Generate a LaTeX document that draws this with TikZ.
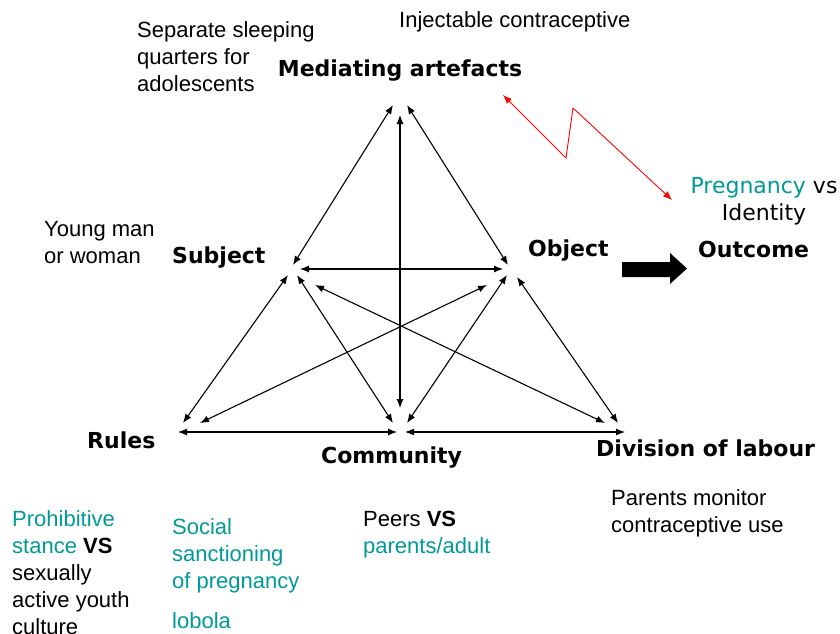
\documentclass[tikz,border=0pt]{standalone}
\usepackage{fontspec}
\setmainfont{Liberation Sans}
\newfontfamily\verd{DejaVu Sans}
\usetikzlibrary{arrows.meta}
\definecolor{tealtxt}{RGB}{0,153,153}
\begin{document}
\begin{tikzpicture}[x=1pt, y=-1pt, line join=round, >={Latex[length=9pt,width=7pt]},
	lab/.style={inner sep=0pt, anchor=base west, align=left, font=\fontsize{22}{27}\selectfont},
	head/.style={inner sep=0pt, anchor=base west, font=\verd\bfseries\fontsize{22}{27}\selectfont},
	duo/.style={<->, line width=1.1pt}]
	\useasboundingbox (0,0) rectangle (840,634);
	% corners of the triangle
	\coordinate (T) at (400,105);
	\coordinate (S) at (295,270);
	\coordinate (O) at (505,270);
	\coordinate (R) at (180,428);
	\coordinate (C) at (400,428);
	\coordinate (D) at (620,428);
	% labels (multi-line ones sit on the baseline of their last line)
	\node[head, anchor=base] (mediate) at (400,77) {Mediating artefacts};
	\node[head] (subject) at (172,263) {Subject};
	\node[head] (object) at (528,256) {Object};
	\node[head] (outcome) at (698,257) {Outcome};
	\node[head] (rules) at (87,448) {Rules};
	\node[head] (comm) at (321,463) {Community};
	\node[head] (divis) at (596,456) {Division of labour};
	\node[lab] (sleep) at (137,91) {Separate sleeping\\quarters for\\adolescents};
	\node[lab] (inject) at (399,28) {Injectable contraceptive};
	\node[lab] (young) at (44,263) {Young man\\or woman};
	\node[lab, anchor=base, align=center, font=\verd\fontsize{22}{27}\selectfont] (preg) at (764,220) {\textcolor{tealtxt}{Pregnancy} vs\\Identity};
	\node[lab] (monitor) at (611,532) {Parents monitor\\contraceptive use};
	\node[lab] (peers) at (363,553) {Peers \textbf{VS}\\\textcolor{tealtxt}{parents/adult}};
	\node[lab, text=tealtxt] (social) at (172,588) {Social\\sanctioning\\of pregnancy};
	\node[lab, text=tealtxt] (lobola) at (172,628) {lobola};
	\node[lab] (prohib) at (12,634) {\textcolor{tealtxt}{Prohibitive}\\\textcolor{tealtxt}{stance} \textbf{VS}\\sexually\\active youth\\culture};
	% edges of the triangle
	\draw[duo] ([shift={(-2,-5)}]S) -- ([shift={(-7,0)}]T);
	\draw[duo] ([shift={(3,-5)}]O) -- ([shift={(7,0)}]T);
	\draw[duo] ([shift={(0,-20)}]C) -- ([shift={(0,10)}]T);
	\draw[duo] ([shift={(5,-1)}]S) -- ([shift={(-2,-1)}]O);
	\draw[duo] ([shift={(-7,5)}]S) -- ([shift={(3,-5)}]R);
	\draw[duo] ([shift={(2,5)}]S) -- ([shift={(-7,-5)}]C);
	\draw[duo] ([shift={(20,15)}]S) -- ([shift={(-15,-5)}]D);
	\draw[duo] ([shift={(-18,15)}]O) -- ([shift={(20,-5)}]R);
	\draw[duo] ([shift={(2,5)}]O) -- ([shift={(7,-5)}]C);
	\draw[duo] ([shift={(12,7)}]O) -- ([shift={(-2,-5)}]D);
	\draw[duo] ([shift={(-2,4)}]R) -- ([shift={(-3,4)}]C);
	\draw[duo] ([shift={(5,4)}]C) -- ([shift={(5,4)}]D);
	% contradiction
	\coordinate (z1) at (503,95);
	\coordinate (z2) at (566,158);
	\coordinate (z3) at (573,108);
	\coordinate (z4) at (672,200);
	\draw[red, <->, line width=0.9pt] (z1) -- (z2) -- (z3) -- (z4);
	% to outcome
	\fill (622,262) -- (670,262) -- (670,253) -- (687,268.5) -- (670,284) -- (670,277) -- (622,277) -- cycle;
\end{tikzpicture}
\end{document}
